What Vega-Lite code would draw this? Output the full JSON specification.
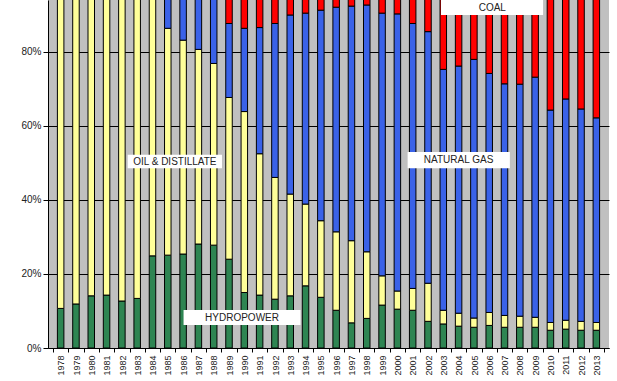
{
  "$schema": "https://vega.github.io/schema/vega-lite/v6.json",
  "width": 561,
  "height": 348,
  "autosize": {"type": "none"},
  "padding": {"left": 48, "top": 0, "right": 8, "bottom": 33},
  "background": "white",
  "config": {"view": {"fill": "#C0C0C0", "stroke": null}, "font": "Liberation Sans"},
  "datasets": {
    "shares": [
      {"year": 1978, "source": "Hydropower", "share": 0.107}, {"year": 1978, "source": "Oil & Distillate", "share": 0.893},
      {"year": 1979, "source": "Hydropower", "share": 0.119}, {"year": 1979, "source": "Oil & Distillate", "share": 0.881},
      {"year": 1980, "source": "Hydropower", "share": 0.141}, {"year": 1980, "source": "Oil & Distillate", "share": 0.859},
      {"year": 1981, "source": "Hydropower", "share": 0.143}, {"year": 1981, "source": "Oil & Distillate", "share": 0.857},
      {"year": 1982, "source": "Hydropower", "share": 0.127}, {"year": 1982, "source": "Oil & Distillate", "share": 0.873},
      {"year": 1983, "source": "Hydropower", "share": 0.134}, {"year": 1983, "source": "Oil & Distillate", "share": 0.866},
      {"year": 1984, "source": "Hydropower", "share": 0.249}, {"year": 1984, "source": "Oil & Distillate", "share": 0.751},
      {"year": 1985, "source": "Hydropower", "share": 0.251}, {"year": 1985, "source": "Oil & Distillate", "share": 0.613}, {"year": 1985, "source": "Natural Gas", "share": 0.136},
      {"year": 1986, "source": "Hydropower", "share": 0.254}, {"year": 1986, "source": "Oil & Distillate", "share": 0.578}, {"year": 1986, "source": "Natural Gas", "share": 0.168},
      {"year": 1987, "source": "Hydropower", "share": 0.281}, {"year": 1987, "source": "Oil & Distillate", "share": 0.526}, {"year": 1987, "source": "Natural Gas", "share": 0.193},
      {"year": 1988, "source": "Hydropower", "share": 0.278}, {"year": 1988, "source": "Oil & Distillate", "share": 0.491}, {"year": 1988, "source": "Natural Gas", "share": 0.231},
      {"year": 1989, "source": "Hydropower", "share": 0.240}, {"year": 1989, "source": "Oil & Distillate", "share": 0.437}, {"year": 1989, "source": "Natural Gas", "share": 0.200}, {"year": 1989, "source": "Coal", "share": 0.123},
      {"year": 1990, "source": "Hydropower", "share": 0.150}, {"year": 1990, "source": "Oil & Distillate", "share": 0.489}, {"year": 1990, "source": "Natural Gas", "share": 0.225}, {"year": 1990, "source": "Coal", "share": 0.136},
      {"year": 1991, "source": "Hydropower", "share": 0.143}, {"year": 1991, "source": "Oil & Distillate", "share": 0.382}, {"year": 1991, "source": "Natural Gas", "share": 0.341}, {"year": 1991, "source": "Coal", "share": 0.134},
      {"year": 1992, "source": "Hydropower", "share": 0.132}, {"year": 1992, "source": "Oil & Distillate", "share": 0.329}, {"year": 1992, "source": "Natural Gas", "share": 0.416}, {"year": 1992, "source": "Coal", "share": 0.123},
      {"year": 1993, "source": "Hydropower", "share": 0.141}, {"year": 1993, "source": "Oil & Distillate", "share": 0.275}, {"year": 1993, "source": "Natural Gas", "share": 0.484}, {"year": 1993, "source": "Coal", "share": 0.100},
      {"year": 1994, "source": "Hydropower", "share": 0.168}, {"year": 1994, "source": "Oil & Distillate", "share": 0.221}, {"year": 1994, "source": "Natural Gas", "share": 0.516}, {"year": 1994, "source": "Coal", "share": 0.095},
      {"year": 1995, "source": "Hydropower", "share": 0.137}, {"year": 1995, "source": "Oil & Distillate", "share": 0.207}, {"year": 1995, "source": "Natural Gas", "share": 0.569}, {"year": 1995, "source": "Coal", "share": 0.087},
      {"year": 1996, "source": "Hydropower", "share": 0.102}, {"year": 1996, "source": "Oil & Distillate", "share": 0.212}, {"year": 1996, "source": "Natural Gas", "share": 0.607}, {"year": 1996, "source": "Coal", "share": 0.079},
      {"year": 1997, "source": "Hydropower", "share": 0.068}, {"year": 1997, "source": "Oil & Distillate", "share": 0.222}, {"year": 1997, "source": "Natural Gas", "share": 0.634}, {"year": 1997, "source": "Coal", "share": 0.076},
      {"year": 1998, "source": "Hydropower", "share": 0.080}, {"year": 1998, "source": "Oil & Distillate", "share": 0.180}, {"year": 1998, "source": "Natural Gas", "share": 0.667}, {"year": 1998, "source": "Coal", "share": 0.073},
      {"year": 1999, "source": "Hydropower", "share": 0.116}, {"year": 1999, "source": "Oil & Distillate", "share": 0.079}, {"year": 1999, "source": "Natural Gas", "share": 0.710}, {"year": 1999, "source": "Coal", "share": 0.095},
      {"year": 2000, "source": "Hydropower", "share": 0.105}, {"year": 2000, "source": "Oil & Distillate", "share": 0.049}, {"year": 2000, "source": "Natural Gas", "share": 0.749}, {"year": 2000, "source": "Coal", "share": 0.097},
      {"year": 2001, "source": "Hydropower", "share": 0.102}, {"year": 2001, "source": "Oil & Distillate", "share": 0.059}, {"year": 2001, "source": "Natural Gas", "share": 0.716}, {"year": 2001, "source": "Coal", "share": 0.123},
      {"year": 2002, "source": "Hydropower", "share": 0.072}, {"year": 2002, "source": "Oil & Distillate", "share": 0.103}, {"year": 2002, "source": "Natural Gas", "share": 0.680}, {"year": 2002, "source": "Coal", "share": 0.145},
      {"year": 2003, "source": "Hydropower", "share": 0.065}, {"year": 2003, "source": "Oil & Distillate", "share": 0.037}, {"year": 2003, "source": "Natural Gas", "share": 0.651}, {"year": 2003, "source": "Coal", "share": 0.247},
      {"year": 2004, "source": "Hydropower", "share": 0.059}, {"year": 2004, "source": "Oil & Distillate", "share": 0.035}, {"year": 2004, "source": "Natural Gas", "share": 0.668}, {"year": 2004, "source": "Coal", "share": 0.238},
      {"year": 2005, "source": "Hydropower", "share": 0.056}, {"year": 2005, "source": "Oil & Distillate", "share": 0.025}, {"year": 2005, "source": "Natural Gas", "share": 0.699}, {"year": 2005, "source": "Coal", "share": 0.220},
      {"year": 2006, "source": "Hydropower", "share": 0.061}, {"year": 2006, "source": "Oil & Distillate", "share": 0.035}, {"year": 2006, "source": "Natural Gas", "share": 0.646}, {"year": 2006, "source": "Coal", "share": 0.258},
      {"year": 2007, "source": "Hydropower", "share": 0.056}, {"year": 2007, "source": "Oil & Distillate", "share": 0.032}, {"year": 2007, "source": "Natural Gas", "share": 0.626}, {"year": 2007, "source": "Coal", "share": 0.286},
      {"year": 2008, "source": "Hydropower", "share": 0.056}, {"year": 2008, "source": "Oil & Distillate", "share": 0.030}, {"year": 2008, "source": "Natural Gas", "share": 0.627}, {"year": 2008, "source": "Coal", "share": 0.287},
      {"year": 2009, "source": "Hydropower", "share": 0.056}, {"year": 2009, "source": "Oil & Distillate", "share": 0.027}, {"year": 2009, "source": "Natural Gas", "share": 0.649}, {"year": 2009, "source": "Coal", "share": 0.268},
      {"year": 2010, "source": "Hydropower", "share": 0.048}, {"year": 2010, "source": "Oil & Distillate", "share": 0.021}, {"year": 2010, "source": "Natural Gas", "share": 0.574}, {"year": 2010, "source": "Coal", "share": 0.357},
      {"year": 2011, "source": "Hydropower", "share": 0.051}, {"year": 2011, "source": "Oil & Distillate", "share": 0.024}, {"year": 2011, "source": "Natural Gas", "share": 0.598}, {"year": 2011, "source": "Coal", "share": 0.327},
      {"year": 2012, "source": "Hydropower", "share": 0.048}, {"year": 2012, "source": "Oil & Distillate", "share": 0.024}, {"year": 2012, "source": "Natural Gas", "share": 0.574}, {"year": 2012, "source": "Coal", "share": 0.354},
      {"year": 2013, "source": "Hydropower", "share": 0.048}, {"year": 2013, "source": "Oil & Distillate", "share": 0.021}, {"year": 2013, "source": "Natural Gas", "share": 0.553}, {"year": 2013, "source": "Coal", "share": 0.378}
    ],
    "labels": [
      {"label": "OIL & DISTILLATE", "x1": 1982.38, "x2": 1988.54, "y1": 0.486, "y2": 0.522, "xc": 1985.46, "yc": 0.504},
      {"label": "NATURAL GAS", "x1": 2000.67, "x2": 2007.35, "y1": 0.486, "y2": 0.53, "xc": 2004.0, "yc": 0.508},
      {"label": "HYDROPOWER", "x1": 1986.03, "x2": 1993.67, "y1": 0.062, "y2": 0.103, "xc": 1989.85, "yc": 0.082},
      {"label": "COAL", "x1": 2002.85, "x2": 2009.52, "y1": 0.9, "y2": 0.96, "xc": 2006.2, "yc": 0.92}
    ]
  },
  "layer": [
    {
      "data": {"name": "shares"},
      "transform": [
        {"calculate": "indexof(['Hydropower', 'Oil & Distillate', 'Natural Gas', 'Coal'], datum.source)", "as": "stackRank"}
      ],
      "mark": {"type": "bar", "size": 6.5, "stroke": "black", "strokeWidth": 1, "clip": true},
      "encoding": {
        "x": {
          "field": "year", "type": "quantitative", "title": null,
          "scale": {"domain": [1977.5, 2013.5], "nice": false, "zero": false},
          "axis": {
            "values": [1977.5, 1978.5, 1979.5, 1980.5, 1981.5, 1982.5, 1983.5, 1984.5, 1985.5, 1986.5, 1987.5, 1988.5, 1989.5, 1990.5, 1991.5, 1992.5, 1993.5, 1994.5, 1995.5, 1996.5, 1997.5, 1998.5, 1999.5, 2000.5, 2001.5, 2002.5, 2003.5, 2004.5, 2005.5, 2006.5, 2007.5, 2008.5, 2009.5, 2010.5, 2011.5, 2012.5, 2013.5],
            "tickCount": 200,
            "labelExpr": "datum.value > 2013 ? '' : format(datum.value + 0.5, 'd')",
            "labelAngle": -90, "labelAlign": "right", "labelBaseline": "middle",
            "labelOffset": 7.8, "labelFontSize": 9, "labelColor": "#222", "labelPadding": 3,
            "labelFlush": false, "labelOverlap": false, "labelBound": false,
            "tickSize": 4, "tickColor": "black", "domainColor": "black", "grid": false, "title": null
          }
        },
        "y": {
          "field": "share", "type": "quantitative", "stack": "zero", "title": null,
          "scale": {"domain": [0, 0.9405], "nice": false, "zero": true},
          "axis": {
            "values": [0, 0.2, 0.4, 0.6, 0.8], "format": ".0%",
            "grid": true, "gridColor": "black", "gridOpacity": 1, "gridWidth": 1,
            "domainColor": "black", "tickColor": "black", "tickSize": 5,
            "labelFontSize": 10, "labelColor": "#222", "labelPadding": 2, "title": null
          }
        },
        "order": {"field": "stackRank", "type": "quantitative", "sort": "ascending"},
        "color": {
          "field": "source", "type": "nominal",
          "scale": {"domain": ["Hydropower", "Oil & Distillate", "Natural Gas", "Coal"], "range": ["#2E8552", "#FFFF99", "#3A62E8", "#FF0000"]},
          "legend": null
        }
      }
    },
    {
      "data": {"name": "labels"},
      "mark": {"type": "rect", "fill": "white", "clip": true},
      "encoding": {
        "x": {"field": "x1", "type": "quantitative", "title": null},
        "x2": {"field": "x2"},
        "y": {"field": "y1", "type": "quantitative", "title": null},
        "y2": {"field": "y2"}
      }
    },
    {
      "data": {"name": "labels"},
      "mark": {"type": "text", "fontSize": 10, "color": "#222", "clip": true},
      "encoding": {
        "x": {"field": "xc", "type": "quantitative", "title": null},
        "y": {"field": "yc", "type": "quantitative", "title": null},
        "text": {"field": "label"}
      }
    }
  ]
}
